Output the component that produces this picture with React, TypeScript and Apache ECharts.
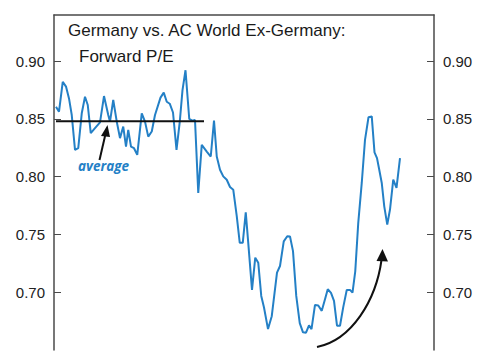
import React, { useEffect, useRef } from "react";
import * as echarts from "echarts";

// time index (periods) and relative forward P/E ratio
const T = [
  0.8, 2.0, 3.5, 4.8, 6.0, 7.1, 8.4, 9.7, 11.1, 12.4, 13.5, 14.7, 16.4, 18.4, 20.0, 21.7, 22.4, 23.7, 25.1, 26.4,
  27.7, 28.8, 29.7, 30.8, 32.0, 33.3, 35.1, 36.4, 37.7, 39.1, 40.4, 42.6, 43.9, 45.1, 46.3, 47.6, 49.0, 50.3, 51.4, 52.6,
  54.1, 55.3, 56.4, 57.7, 59.1, 61.1, 62.7, 64.0, 65.1, 66.4, 67.7, 69.1, 70.4, 71.7, 73.1, 74.3, 75.5, 76.7, 77.7, 79.2,
  80.5, 81.7, 82.9, 84.0, 85.6, 87.1, 89.2, 90.4, 91.9, 93.3, 94.4, 95.6, 96.9, 98.3, 99.6, 100.8, 102.0, 103.0, 104.4, 105.7,
  107.1, 108.4, 109.5, 110.8, 112.0, 113.2, 114.4, 115.7, 117.1, 118.4, 119.4, 120.5, 121.7, 123.1, 124.4, 125.8, 127.1, 128.2, 129.2, 130.1,
  131.1, 132.1, 133.3, 134.4, 135.7, 137.0, 138.4,
];
const RATIO = [
  0.8606, 0.8563, 0.8822, 0.878, 0.8678, 0.8534, 0.8233, 0.8247, 0.8549, 0.8692, 0.8621, 0.8377, 0.842, 0.847, 0.8698, 0.8534, 0.8477, 0.8664, 0.8477, 0.8334,
  0.8434, 0.8261, 0.8405, 0.8261, 0.8247, 0.819, 0.8549, 0.8477, 0.8347, 0.8391, 0.8534, 0.8685, 0.8728, 0.8649, 0.8632, 0.8556, 0.8233, 0.8474, 0.875, 0.8922,
  0.85, 0.8485, 0.8491, 0.786, 0.8276, 0.8218, 0.8175, 0.8485, 0.8175, 0.806, 0.8003, 0.7974, 0.7911, 0.7888, 0.7658, 0.7428, 0.7428, 0.7692, 0.7428, 0.702,
  0.7299, 0.7256, 0.6968, 0.6868, 0.6681, 0.6793, 0.717, 0.7227, 0.744, 0.7485, 0.7483, 0.7356, 0.6968, 0.6733, 0.6653, 0.665, 0.6713, 0.6681, 0.689, 0.6885,
  0.6839, 0.694, 0.7026, 0.6994, 0.6925, 0.671, 0.671, 0.6871, 0.702, 0.702, 0.6997, 0.7181, 0.7601, 0.7946, 0.8319, 0.8515, 0.8522, 0.8211, 0.8161, 0.806,
  0.7946, 0.7744, 0.7586, 0.7716, 0.7974, 0.7903, 0.8161,
];
const AVG_T = [0.8, 60];
const AVG_VALUE = 0.848;
const Y_TICKS = [0.7, 0.75, 0.8, 0.85, 0.9];
const TITLE_1 = "Germany vs. AC World Ex-Germany:";
const TITLE_2 = "Forward P/E";
const AVG_LABEL = "average";

const AXIS_COLOR = "#4a4a4a";
const LINE_COLOR = "#2480c6";
const FONT = "'Liberation Sans', Arial, sans-serif";

export default function App() {
  const ref = useRef<HTMLDivElement>(null);

  useEffect(() => {
    if (!ref.current) return;
    const chart = echarts.init(ref.current, undefined, { renderer: "svg" });

    const mainData = T.map((t, i) => [t, RATIO[i]]);
    const avgData = AVG_T.map((t) => [t, AVG_VALUE]);

    const yAxisBase = (position: "left" | "right") => ({
      type: "value",
      position,
      min: 0.65,
      max: 0.94,
      interval: 0.05,
      axisLine: { show: true, lineStyle: { color: AXIS_COLOR, width: 1.5 } },
      axisTick: {
        show: true,
        inside: true,
        length: 7,
        customValues: Y_TICKS,
        lineStyle: { color: AXIS_COLOR, width: 1 },
      },
      axisLabel: {
        show: true,
        customValues: Y_TICKS,
        margin: 9,
        color: "#222",
        fontSize: 15,
        fontFamily: FONT,
        formatter: (v: number) => v.toFixed(2),
      },
      splitLine: { show: false },
    });

    chart.setOption({
      animation: false,
      backgroundColor: "#fff",
      grid: { left: 54, right: 51, top: 15, bottom: 10, containLabel: false },
      xAxis: {
        type: "value",
        position: "top",
        min: 0,
        max: 152,
        axisLine: { show: true, onZero: false, lineStyle: { color: AXIS_COLOR, width: 1.5 } },
        axisTick: { show: false },
        axisLabel: { show: false },
        splitLine: { show: false },
      },
      yAxis: [yAxisBase("left"), yAxisBase("right")],
      series: [
        {
          type: "line",
          data: avgData,
          symbol: "none",
          lineStyle: { color: "#111", width: 2 },
          z: 3,
        },
        {
          type: "line",
          data: mainData,
          symbol: "none",
          lineStyle: { color: LINE_COLOR, width: 2 },
          z: 2,
        },
      ],
      graphic: [
        {
          type: "text",
          x: 68,
          y: 30,
          style: {
            text: TITLE_1,
            fontSize: 17,
            fontFamily: FONT,
            fill: "#1a1a1a",
            verticalAlign: "middle",
          },
        },
        {
          type: "text",
          x: 79,
          y: 56,
          style: {
            text: TITLE_2,
            fontSize: 17,
            fontFamily: FONT,
            fill: "#1a1a1a",
            verticalAlign: "middle",
          },
        },
        {
          type: "text",
          x: 78,
          y: 166,
          style: {
            text: AVG_LABEL,
            fontSize: 13.5,
            fontStyle: "italic",
            fontWeight: "bold",
            fontFamily: "'Open Sans', sans-serif",
            fill: LINE_COLOR,
            verticalAlign: "middle",
          },
        },
        {
          type: "line",
          shape: { x1: 99.5, y1: 160, x2: 105.5, y2: 134 },
          style: { stroke: "#111", lineWidth: 2 },
        },
        {
          type: "polygon",
          shape: { points: [[107.5, 125], [101, 136], [110, 137]] },
          style: { fill: "#111" },
        },
        {
          type: "bezierCurve",
          shape: { x1: 317, y1: 347, cpx1: 352, cpy1: 340, cpx2: 376, cpy2: 300, x2: 381.5, y2: 260 },
          style: { stroke: "#111", lineWidth: 2, fill: "none" },
        },
        {
          type: "polygon",
          shape: { points: [[382.5, 249], [376.5, 261], [388, 261.5]] },
          style: { fill: "#111" },
        },
      ],
    });

    return () => chart.dispose();
  }, []);

  return (
    <div
      ref={ref}
      style={{ position: "fixed", left: 0, top: 0, width: 485, height: 360, background: "#fff" }}
    />
  );
}
